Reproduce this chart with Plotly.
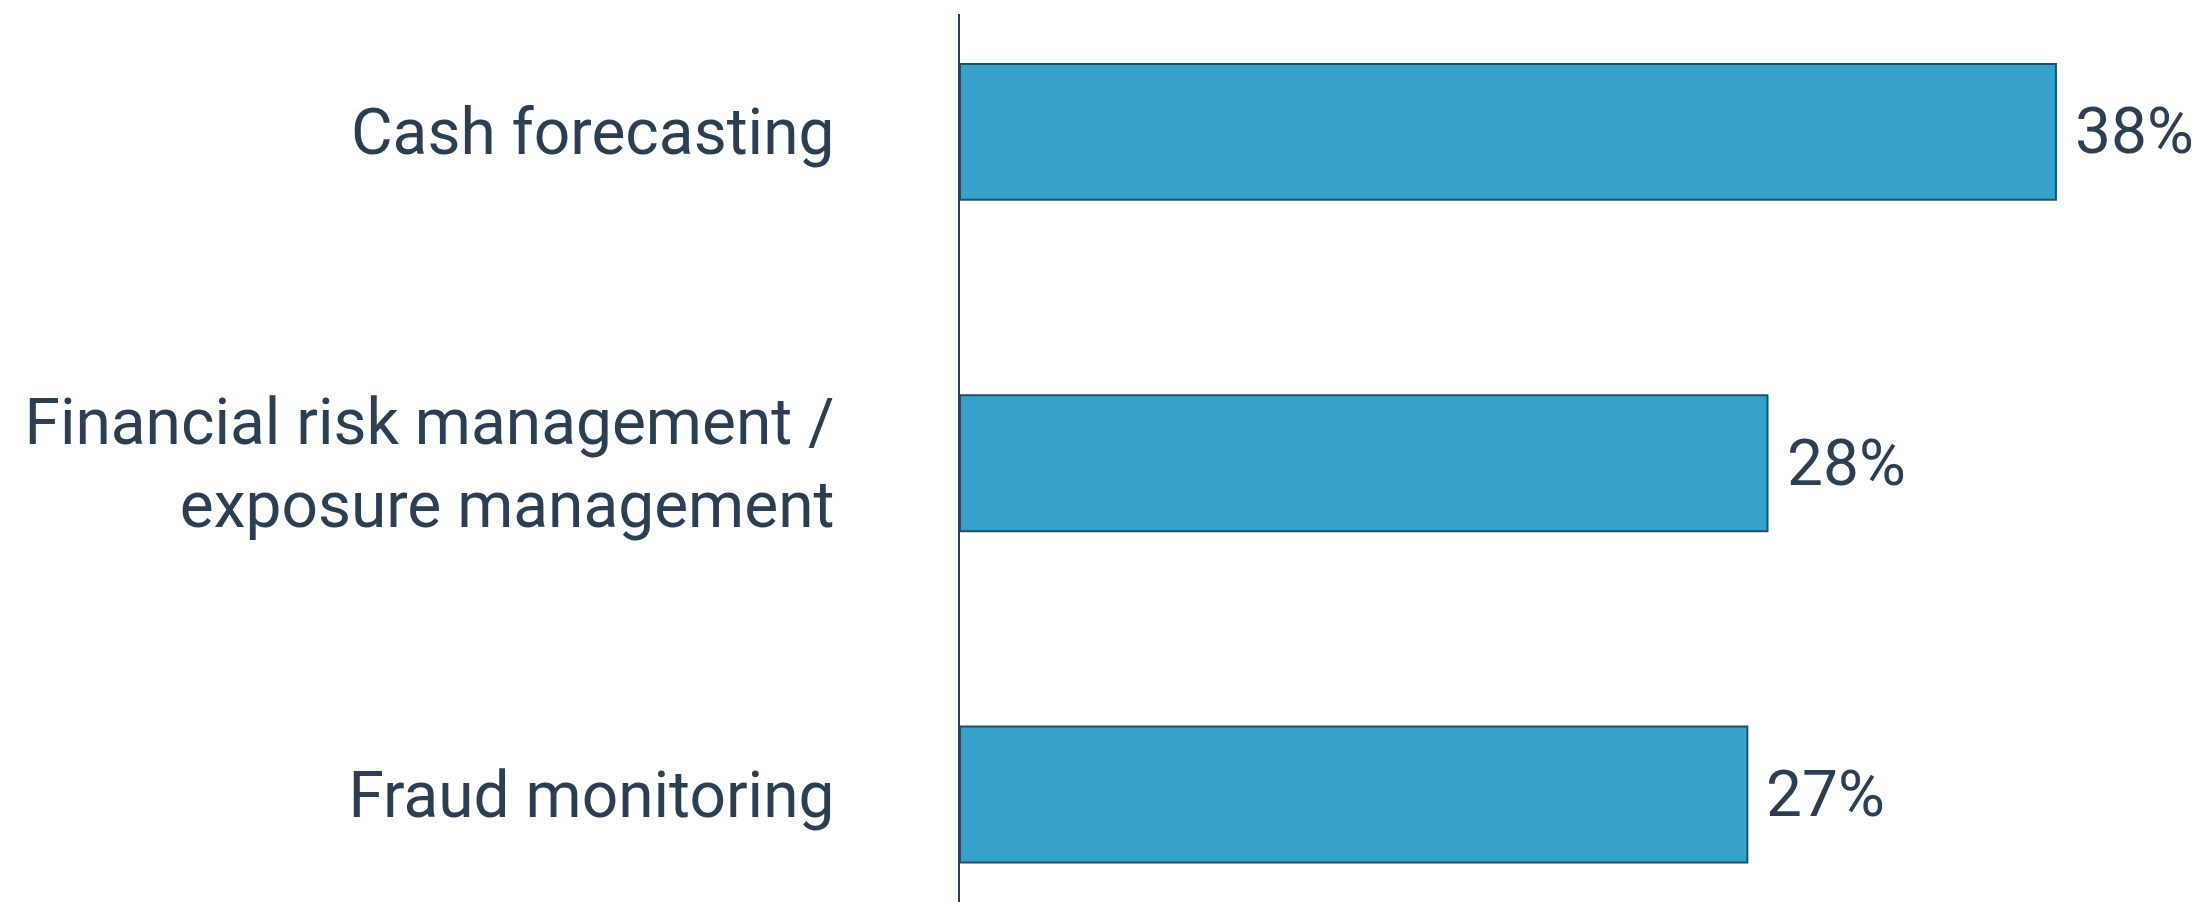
import plotly.graph_objects as go

categories = ["Cash forecasting", "Financial risk management /<br>exposure management", "Fraud monitoring"]
values = [38, 28, 27.3]
value_labels = ["38%", "28%", "27%"]

TEXT = "#2C3E50"
FONT = "Roboto"

fig = go.Figure()
fig.add_trace(go.Bar(
    x=values, y=[0, 1, 2], orientation="h", width=0.41,
    marker=dict(color="#35A2CB", line=dict(color="#1B5068", width=2)),
    hoverinfo="skip",
))

for v, lab, i in zip(values, value_labels, range(3)):
    fig.add_annotation(x=v, y=i, xref="x", yref="y", text=lab, showarrow=False,
                       xanchor="left", yanchor="middle", xshift=17,
                       font=dict(family=FONT, size=64, color=TEXT))

fig.update_layout(
    width=2197, height=894,
    margin=dict(l=952, r=0, t=6, b=0),
    paper_bgcolor="white", plot_bgcolor="white",
    showlegend=False,
    font=dict(family=FONT, color=TEXT),
    xaxis=dict(range=[0, 1245 / 28.84], visible=False, showgrid=False, zeroline=False),
    yaxis=dict(range=[2.3245, -0.356], tickmode="array", tickvals=[0, 1, 2], ticktext=categories,
               showgrid=False, zeroline=False, showline=True, linecolor="#2C3E50", linewidth=1.5,
               ticks="", ticklabelstandoff=111,
               tickfont=dict(family=FONT, size=64, color=TEXT)),
)

fig.write_html("out.html")
